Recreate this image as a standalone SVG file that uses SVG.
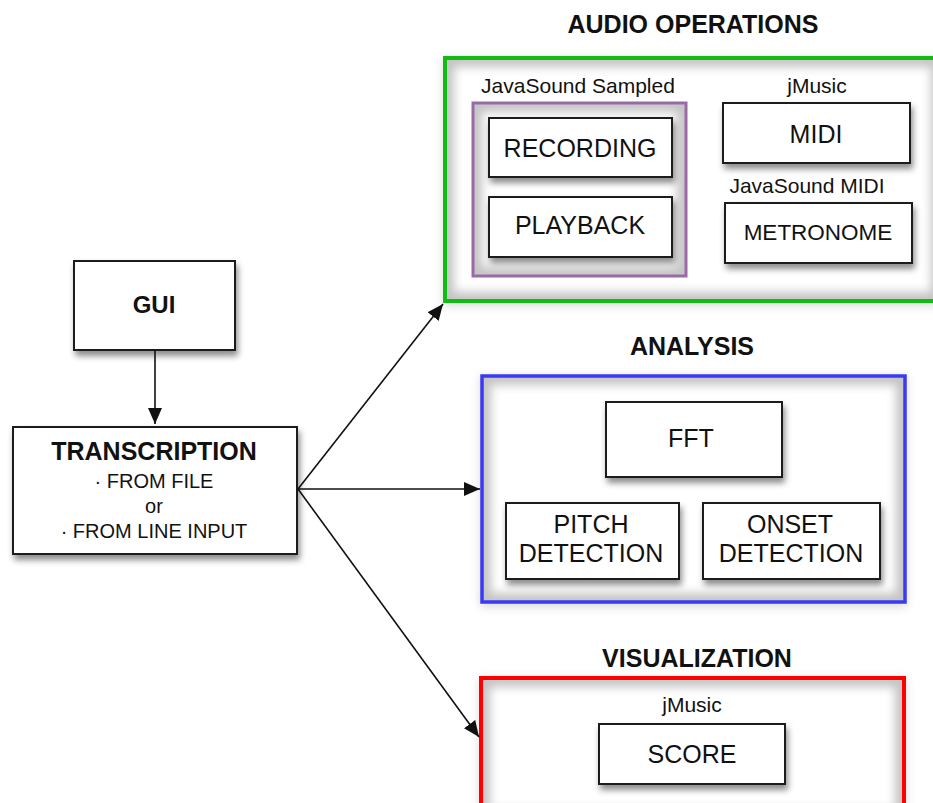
<svg xmlns="http://www.w3.org/2000/svg" width="933" height="803" viewBox="0 0 933 803">
  <style>
    .box { fill: #ffffff; stroke: #1a1a1a; stroke-width: 2; }
    .lbl { font-family: "Liberation Sans", Arial, sans-serif; font-size: 25px; fill: #111; text-anchor: middle; }
    .bold { font-weight: bold; }
    .small { font-family: "Liberation Sans", Arial, sans-serif; font-size: 21px; fill: #111; text-anchor: middle; }
    .title { font-family: "Liberation Sans", Arial, sans-serif; font-size: 25px; font-weight: bold; fill: #111; text-anchor: middle; }
    .wire { stroke: #111; stroke-width: 1.6; fill: none; marker-end: url(#arrow); }
    .halo { fill: #9a9a9a; opacity: 0.35; filter: url(#soft); }
    .shade { fill: none; stroke: #c4c4c4; stroke-width: 18; filter: url(#soft); }
  </style>
  <defs>
    <filter id="shadow" x="-20%" y="-20%" width="150%" height="160%">
      <feDropShadow dx="2" dy="5" stdDeviation="3" flood-color="#000" flood-opacity="0.45"/>
    </filter>
    <filter id="soft" x="-20%" y="-20%" width="140%" height="140%">
      <feGaussianBlur stdDeviation="5"/>
    </filter>
    <clipPath id="clipAudio"><rect x="445" y="58" width="495" height="243"/></clipPath>
    <clipPath id="clipSampled"><rect x="473" y="103" width="213" height="173"/></clipPath>
    <clipPath id="clipAnalysis"><rect x="482" y="376" width="423" height="226"/></clipPath>
    <clipPath id="clipVis"><rect x="481" y="678" width="423" height="140"/></clipPath>
    <marker id="arrow" markerUnits="userSpaceOnUse" markerWidth="18" markerHeight="14" refX="16" refY="7" orient="auto">
      <path d="M0,0 L16,7 L0,14 Z" fill="#111"/>
    </marker>
  </defs>

  <!-- Group headings -->
  <text class="title" x="693" y="33">AUDIO OPERATIONS</text>
  <text class="title" x="692" y="355">ANALYSIS</text>
  <text class="title" x="697" y="667">VISUALIZATION</text>

  <!-- Audio operations container -->
  <g id="audio-operations">
    <rect class="halo" x="443" y="58" width="497" height="248"/>
    <rect x="445" y="58" width="495" height="243" fill="#fff"/>
    <rect class="shade" x="445" y="58" width="495" height="243" clip-path="url(#clipAudio)"/>
    <rect x="445" y="58" width="495" height="243" fill="none" stroke="#11bb11" stroke-width="4"/>
  </g>

  <!-- JavaSound Sampled sub-group -->
  <g id="javasound-sampled">
    <text class="small" x="578" y="93">JavaSound Sampled</text>
    <rect x="473" y="103" width="213" height="173" fill="#fff"/>
    <rect class="shade" x="473" y="103" width="213" height="173" clip-path="url(#clipSampled)"/>
    <rect x="473" y="103" width="213" height="173" fill="none" stroke="#9a6aa8" stroke-width="3"/>
  </g>

  <g id="recording">
    <rect class="box" x="489" y="118" width="183" height="59" filter="url(#shadow)"/>
    <text class="lbl" x="580" y="157">RECORDING</text>
  </g>
  <g id="playback">
    <rect class="box" x="489" y="197" width="183" height="60" filter="url(#shadow)"/>
    <text class="lbl" x="580" y="234">PLAYBACK</text>
  </g>

  <g id="midi">
    <text class="small" x="817" y="93">jMusic</text>
    <rect class="box" x="723" y="103" width="187" height="60" filter="url(#shadow)"/>
    <text class="lbl" x="816" y="143">MIDI</text>
  </g>
  <g id="metronome">
    <text class="small" x="807" y="193">JavaSound MIDI</text>
    <rect class="box" x="725" y="203" width="187" height="60" filter="url(#shadow)"/>
    <text class="lbl" x="818" y="240" style="font-size:22.5px">METRONOME</text>
  </g>

  <!-- Analysis container -->
  <g id="analysis">
    <rect class="halo" x="480" y="376" width="427" height="231"/>
    <rect x="482" y="376" width="423" height="226" fill="#fff"/>
    <rect class="shade" x="482" y="376" width="423" height="226" clip-path="url(#clipAnalysis)"/>
    <rect x="482" y="376" width="423" height="226" fill="none" stroke="#3a3af5" stroke-width="3.5"/>
  </g>
  <g id="fft">
    <rect class="box" x="606" y="402" width="176" height="75" filter="url(#shadow)"/>
    <text class="lbl" x="691" y="447">FFT</text>
  </g>
  <g id="pitch-detection">
    <rect class="box" x="506" y="503" width="173" height="76" filter="url(#shadow)"/>
    <text class="lbl" x="591" y="533">PITCH</text>
    <text class="lbl" x="591" y="562">DETECTION</text>
  </g>
  <g id="onset-detection">
    <rect class="box" x="703" y="503" width="177" height="76" filter="url(#shadow)"/>
    <text class="lbl" x="790" y="533">ONSET</text>
    <text class="lbl" x="791" y="562">DETECTION</text>
  </g>

  <!-- Visualization container -->
  <g id="visualization">
    <rect class="halo" x="479" y="678" width="427" height="145"/>
    <rect x="481" y="678" width="423" height="140" fill="#fff"/>
    <rect class="shade" x="481" y="678" width="423" height="140" clip-path="url(#clipVis)"/>
    <rect x="481" y="678" width="423" height="140" fill="none" stroke="#ff0000" stroke-width="4"/>
  </g>
  <g id="score">
    <text class="small" x="692" y="712">jMusic</text>
    <rect class="box" x="599" y="724" width="186" height="60" filter="url(#shadow)"/>
    <text class="lbl" x="692" y="763">SCORE</text>
  </g>

  <!-- Entry points -->
  <g id="gui">
    <rect class="box" x="74" y="261" width="161" height="89" filter="url(#shadow)"/>
    <text class="lbl bold" x="154" y="313" style="font-size:24px">GUI</text>
  </g>
  <g id="transcription">
    <rect class="box" x="13" y="427" width="284" height="127" filter="url(#shadow)"/>
    <text class="lbl bold" x="154" y="460">TRANSCRIPTION</text>
    <text class="small" x="154" y="488" style="font-size:20px">· FROM FILE</text>
    <text class="small" x="154" y="513" style="font-size:20px">or</text>
    <text class="small" x="154" y="538" style="font-size:20px">· FROM LINE INPUT</text>
  </g>

  <!-- Connectors -->
  <g id="connectors">
    <line class="wire" x1="155" y1="350" x2="155" y2="424"/>
    <line class="wire" x1="298" y1="489" x2="443" y2="304"/>
    <line class="wire" x1="298" y1="489" x2="480" y2="489"/>
    <line class="wire" x1="298" y1="489" x2="479" y2="737"/>
  </g>
</svg>
